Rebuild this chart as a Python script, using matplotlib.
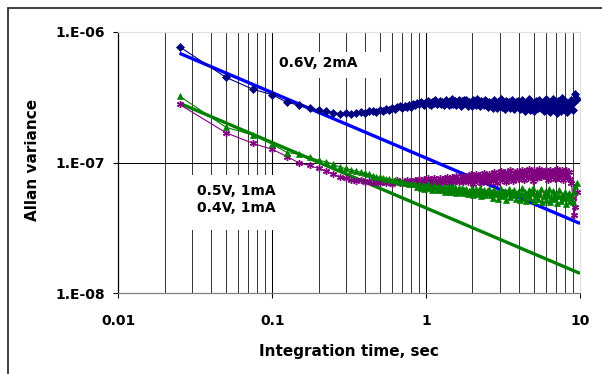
import numpy as np
import matplotlib
matplotlib.use("Agg")
import matplotlib.pyplot as plt
from matplotlib.patches import Rectangle
from matplotlib.ticker import FixedLocator, LogLocator, NullLocator

plt.rcParams.update({
    "font.family": ["DejaVu Sans"], "font.weight": "bold",
    "axes.labelweight": "bold",
})

# Allan variance vs integration time; samples every DT seconds, values in units of 1e-8
DT = 0.025
SAMPLE_N = list(range(1, 51)) + [
    51, 52, 53, 54, 55, 56, 57, 58, 59, 60, 61, 62, 63, 64, 65, 66, 67, 68, 69, 70,
    72, 73, 75, 76, 78, 79, 81, 82, 84, 86, 87, 89, 91, 93, 95, 97, 99, 101, 103, 105,
    107, 109, 111, 113, 116, 118, 120, 123, 125, 128, 130, 133, 136, 138, 141, 144, 147, 150, 153, 156,
    159, 162, 165, 169, 172, 176, 179, 183, 186, 190, 194, 198, 202, 206, 210, 214, 218, 223, 227, 232,
    236, 241, 246, 251, 256, 261, 266, 272, 277, 283, 288, 294, 300, 306, 312, 318, 325, 331, 338, 345,
    352, 359, 366, 373, 380]

AVAR_06V_2MA = [
    76.7, 44.8, 36.3, 33.0, 28.8, 27.4, 26.3, 25.2, 24.6, 24.1, 23.6, 23.9, 23.4, 24.0, 24.3, 23.8, 24.7,
    24.9, 24.4, 25.3, 24.9, 25.7, 25.3, 26.1, 25.6, 26.4, 26.9, 26.0, 27.1, 26.5, 27.5, 26.7, 27.9,
    27.4, 28.6, 27.9, 29.2, 28.1, 27.5, 28.8, 29.6, 28.0, 27.7, 29.0, 28.4, 30.0, 27.9, 28.7, 29.4, 28.2,
    29.0, 27.6, 28.5, 30.1, 28.8, 27.3, 29.5, 28.1, 30.4, 27.8, 28.9, 29.7, 27.5, 28.3, 30.2, 28.6, 27.2, 29.3, 28.0, 29.9,
    28.4, 30.3, 27.1, 29.0, 28.2, 26.8, 29.8, 28.7, 27.4, 30.5, 28.0, 26.9, 29.4, 28.5, 27.3, 30.0, 28.9, 26.7, 29.2, 27.9,
    28.6, 26.3, 29.9, 27.5, 25.9, 29.1, 28.0, 30.4, 26.6, 28.3, 25.5, 29.6, 27.2, 28.8, 26.0, 30.1, 27.7, 25.8, 28.9, 27.0,
    29.5, 25.6, 27.8, 30.2, 26.4, 24.9, 28.6, 27.1, 30.6, 25.3, 28.1, 26.7, 24.6, 29.3, 27.5, 25.9, 30.0, 26.2, 28.4, 24.8,
    27.6, 30.4, 25.1, 28.9, 24.3, 26.8, 30.7, 25.6, 28.2, 23.9, 29.5, 26.5, 24.6, 30.9, 27.3, 25.0, 29.1, 24.2, 28.0, 26.1,
    30.2, 25.4, 28.8, 33.5, 30.8]

AVAR_05V_1MA = [
    32.2, 18.6, 16.2, 13.8, 11.9, 11.6, 11.0, 10.4, 10.1, 9.7, 9.2, 9.0, 8.8, 8.6, 8.45, 8.3, 8.1,
    7.95, 7.8, 7.7, 7.6, 7.5, 7.45, 7.35, 7.3, 7.2, 7.15, 7.05, 7.0, 6.95, 6.85, 6.9, 6.8,
    6.8, 6.5, 6.9, 6.4, 6.7, 6.3, 6.6, 6.85, 6.35, 6.55, 6.2, 6.7, 6.45, 6.15, 6.6, 6.3, 6.5,
    6.2, 6.55, 6.0, 6.4, 6.15, 6.6, 5.9, 6.3, 6.45, 5.95, 6.25, 6.5, 5.85, 6.2, 6.4, 5.9, 6.1, 6.35, 5.8, 6.2,
    6.0, 6.3, 5.7, 6.1, 5.85, 6.4, 5.6, 6.0, 6.25, 5.75, 5.95, 6.35, 5.5, 5.9, 6.2, 5.65, 6.05, 5.8, 6.3, 5.6,
    5.9, 5.4, 6.2, 5.7, 6.0, 5.3, 5.85, 6.3, 5.5, 5.75, 6.1, 5.2, 5.8, 6.25, 5.45, 5.95, 5.6, 6.15, 5.3, 5.7,
    6.0, 5.2, 5.75, 6.35, 5.4, 5.9, 5.05, 5.6, 6.2, 5.35, 5.8, 6.4, 5.1, 5.55, 6.0, 5.25, 5.7, 6.3, 4.95, 5.5,
    5.9, 5.15, 5.6, 6.25, 5.0, 5.45, 6.1, 5.3, 5.75, 4.9, 5.5, 6.2, 5.05, 5.65, 5.35, 6.0, 4.85, 5.4, 5.8, 5.1,
    5.5, 5.0, 5.9, 6.6, 7.0]

AVAR_04V_1MA = [
    27.8, 16.9, 14.0, 12.6, 11.1, 9.9, 9.5, 9.0, 8.6, 8.2, 7.7, 7.6, 7.4, 7.2, 7.3, 7.1, 7.2,
    7.0, 7.15, 6.95, 7.2, 7.0, 7.25, 6.9, 7.15, 7.3, 6.95, 7.2, 7.05, 7.35, 6.9, 7.2, 7.1,
    7.3, 7.0, 7.5, 7.15, 6.9, 7.45, 7.2, 7.6, 7.05, 7.35, 6.95, 7.55, 7.25, 7.0, 7.4, 7.65, 7.1,
    7.4, 7.0, 7.6, 7.25, 7.75, 6.95, 7.45, 7.3, 7.8, 7.1, 7.5, 7.2, 7.9, 7.35, 7.05, 7.65, 7.4, 7.85, 7.15, 7.55,
    7.3, 7.9, 7.1, 7.6, 8.1, 7.4, 6.9, 7.75, 8.2, 7.2, 7.6, 8.0, 7.0, 7.5, 8.3, 7.35, 7.8, 7.1, 8.1, 7.55,
    7.9, 7.2, 8.4, 7.6, 7.0, 8.2, 7.8, 8.6, 7.3, 7.9, 8.5, 7.1, 8.0, 7.5, 8.7, 7.7, 7.2, 8.3, 7.9, 8.6,
    7.5, 8.4, 7.9, 8.8, 7.3, 8.1, 8.6, 7.6, 8.9, 7.8, 8.3, 7.2, 8.7, 8.0, 7.6, 8.5, 8.9, 7.7, 8.2, 8.6,
    7.9, 8.7, 7.4, 8.3, 8.8, 7.7, 8.1, 8.6, 7.5, 8.9, 8.0, 7.6, 8.4, 8.7, 7.3, 8.2, 8.8, 7.8, 8.4, 7.5,
    7.0, 5.4, 4.0, 4.6, 5.9]

# tau^-1/2 trend lines (end points, units of 1e-8)
FIT_TAU = [0.025, 10.0]
FIT_06V = [68.4, 3.42]
FIT_05V = [28.4, 1.42]

X_TICKS = [0.01, 0.1, 1, 10]
X_TICK_LABELS = ["0.01", "0.1", "1", "10"]
Y_TICKS = [1e-8, 1e-7, 1e-6]
Y_TICK_LABELS = ["1.E-08", "1.E-07", "1.E-06"]

W, H = 602, 374
tau = DT * np.array(SAMPLE_N)
scale = 1e-8

fig = plt.figure(figsize=(W / 100, H / 100), dpi=100)
L, R, T, B = 118.3, 580.0, 31.7, 293.3
ax = fig.add_axes([L / W, 1 - B / H, (R - L) / W, (B - T) / H])
ax.set_xscale("log"); ax.set_yscale("log")
ax.set_xlim(0.01, 10); ax.set_ylim(1e-8, 1e-6)

# grid: vertical major + minor, horizontal major only
ax.set_axisbelow(True)
ax.xaxis.set_major_locator(FixedLocator(X_TICKS))
ax.xaxis.set_minor_locator(LogLocator(base=10, subs=range(2, 10)))
ax.yaxis.set_major_locator(FixedLocator(Y_TICKS))
ax.yaxis.set_minor_locator(NullLocator())
ax.set_xticklabels(X_TICK_LABELS)
ax.set_yticklabels(Y_TICK_LABELS)
ax.grid(True, which="major", axis="both", color="black", linewidth=0.75)
ax.grid(True, which="minor", axis="x", color="#333333", linewidth=0.7)
for t in ax.xaxis.get_major_ticks():
    if t.get_loc() in (0.01, 10):
        t.gridline.set_visible(False)
for t in ax.yaxis.get_major_ticks():
    if t.get_loc() in (1e-8, 1e-6):
        t.gridline.set_visible(False)

ax.tick_params(which="major", direction="out", length=3.6, width=0.75, labelsize=10)
ax.tick_params(axis="x", which="major", pad=11.0)
ax.tick_params(axis="y", which="major", pad=5.8)
ax.tick_params(which="minor", length=0)
ax.spines["left"].set_color("black")
ax.spines["bottom"].set_color("#7f7f7f")
ax.spines["top"].set_color("#e0e0e0")
ax.spines["right"].set_color("#e0e0e0")
for s in ax.spines.values():
    s.set_linewidth(0.9)

# white label boxes that cut the grid
for x0, y0, x1, y1 in [(273, 51.7, 386, 78.3), (183, 175, 300, 230)]:
    ax.add_patch(Rectangle(((x0 - L) / (R - L), 1 - (y1 - T) / (B - T)),
                           (x1 - x0) / (R - L), (y1 - y0) / (B - T),
                           transform=ax.transAxes, facecolor="white", edgecolor="none", zorder=1.5))

# trend lines under the measured points
ax.plot(FIT_TAU, np.array(FIT_06V) * scale, color="#0000FF", linewidth=2.4, zorder=3, solid_capstyle="butt")
ax.plot(FIT_TAU, np.array(FIT_05V) * scale, color="#008000", linewidth=2.4, zorder=3, solid_capstyle="butt")

ax.plot(tau, np.array(AVAR_06V_2MA) * scale, color="#000080", linewidth=0.8, marker="D",
        markersize=3.8, markeredgewidth=0.5, zorder=4)
ax.plot(tau, np.array(AVAR_04V_1MA) * scale, color="#800080", linewidth=0.8, marker=(6, 2, 0),
        markersize=5.0, markeredgewidth=1.0, zorder=5)
ax.plot(tau, np.array(AVAR_05V_1MA) * scale, color="#008000", linewidth=0.8, marker="^",
        markersize=4.4, markeredgewidth=0.5, zorder=6)

ax.text((318.5 - L) / (R - L), 1 - (63 - T) / (B - T), "0.6V, 2mA", transform=ax.transAxes,
        ha="center", va="center", fontsize=10, fontweight="bold", zorder=8)
ax.text((236.5 - L) / (R - L), 1 - (199.5 - T) / (B - T), "0.5V, 1mA\n0.4V, 1mA",
        transform=ax.transAxes, ha="center", va="center", fontsize=10, fontweight="bold",
        linespacing=1.35, zorder=8)

fig.text(349 / W, 1 - 351.5 / H, "Integration time, sec", ha="center", va="center",
         fontsize=11, fontweight="bold")
fig.text(32.5 / W, 1 - 160 / H, "Allan variance", ha="center", va="center", rotation=90,
         fontsize=11, fontweight="bold")

# chart-area border
fig.add_artist(Rectangle((7.5 / W, -0.1), 1.2, 1.1 - 8 / H, transform=fig.transFigure,
                         facecolor="none", edgecolor="#333333", linewidth=1.3))

fig.savefig("out.png", dpi=100, facecolor="white")
